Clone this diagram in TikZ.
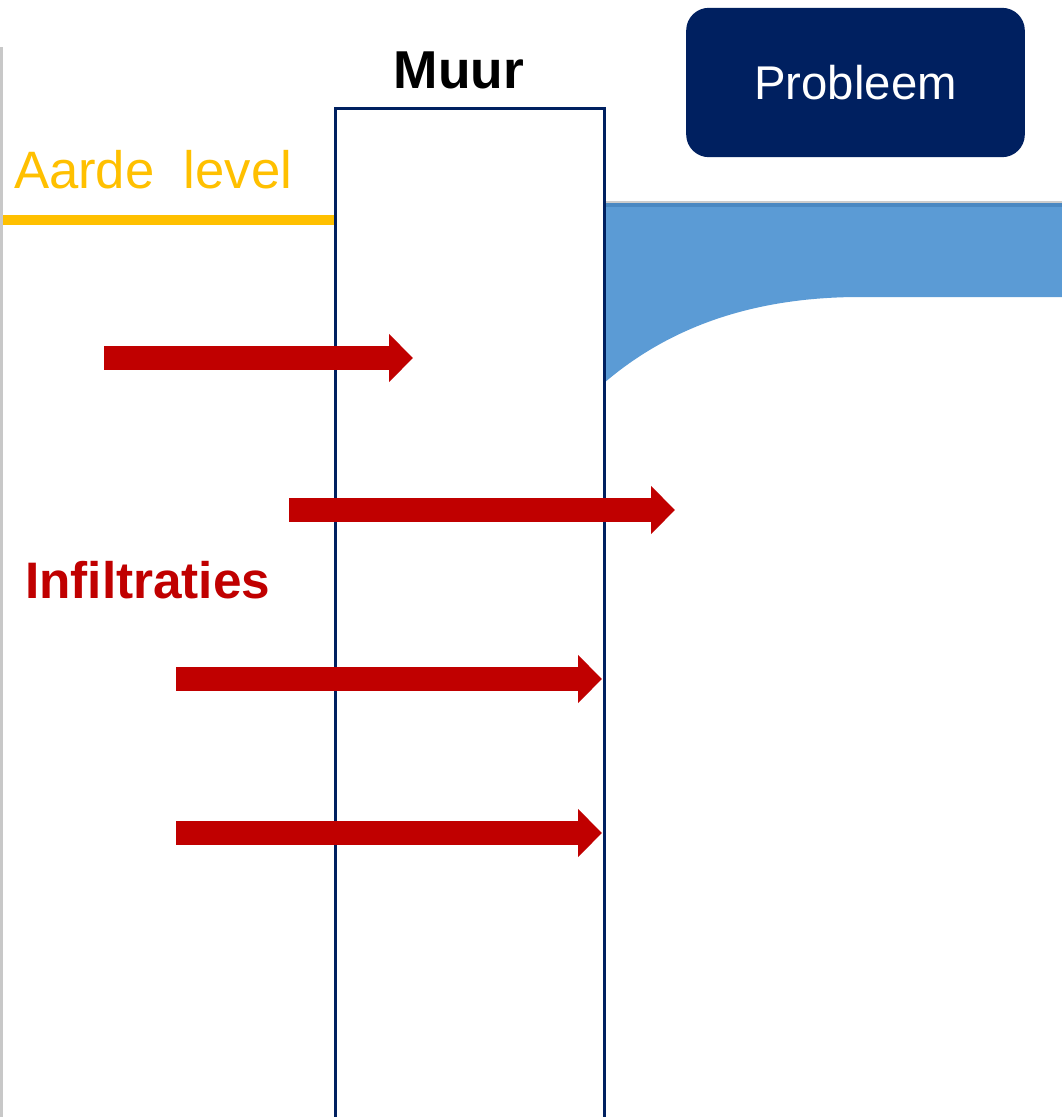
\documentclass[tikz,border=0pt]{standalone}
\usepackage{fontspec}
\setmainfont{Liberation Sans}
\usetikzlibrary{arrows.meta}
\definecolor{navy}{HTML}{002060}
\definecolor{gold}{HTML}{FFC000}
\definecolor{water}{HTML}{5B9BD5}
\definecolor{waterline}{HTML}{4A88C2}
\definecolor{infred}{HTML}{C00000}
\definecolor{edgegray}{HTML}{C8C8C8}
\tikzset{
  flowarrow/.style={draw=infred, line width=17.5pt, -{Triangle[length=18pt,width=35pt]}},
  lbl/.style={inner sep=0pt, outer sep=0pt},
}
\begin{document}
\begin{tikzpicture}[x=0.75pt,y=-0.75pt]
\useasboundingbox (0,0) rectangle (1062,1117);
\fill[white] (0,0) rectangle (1062,1117);
% left gray edge
\draw[edgegray, line width=2.25pt] (1.5,47) -- (1.5,1117);
% water region
\fill[water] (604,383) .. controls (660,335) and (740,297) .. (860,297) -- (1062,297) -- (1062,204) -- (604,204) -- cycle;
\draw[waterline, line width=2.5pt] (604,205) -- (1062,205);
\draw[gray!40, line width=1.5pt] (604,202) -- (1062,202);
% ground level line
\draw[gold, line width=7pt] (3,220) -- (335,220);
% wall
\draw[navy, line width=2.25pt] (335,1120) -- (335,108) -- (604,108) -- (604,1120);
% labels
\node[lbl, anchor=base] (muur) at (459,88) {\fontsize{40}{48}\selectfont\bfseries Muur};
\node[lbl, anchor=base west, text=gold] (aarde) at (14,188) {\fontsize{39.5}{47}\selectfont Aarde\ \ level};
\node[lbl, anchor=base west, text=infred] (infil) at (25,598) {\fontsize{38.5}{46}\selectfont\bfseries Infiltraties};
\node[fill=navy, rounded corners=17pt, minimum width=254pt, minimum height=112pt, inner sep=0pt, text=white] (prob) at (855.5,82.5) {\fontsize{35.5}{42}\selectfont\raisebox{-2pt}{Probleem}};
% arrows
\coordinate (a1s) at (104,358); \coordinate (a1e) at (413,358);
\coordinate (a2s) at (289,510); \coordinate (a2e) at (675,510);
\coordinate (a3s) at (176,679); \coordinate (a3e) at (602,679);
\coordinate (a4s) at (176,833); \coordinate (a4e) at (602,833);
\draw[flowarrow] (a1s) -- (a1e);
\draw[flowarrow] (a2s) -- (a2e);
\draw[flowarrow] (a3s) -- (a3e);
\draw[flowarrow] (a4s) -- (a4e);
\end{tikzpicture}
\end{document}
